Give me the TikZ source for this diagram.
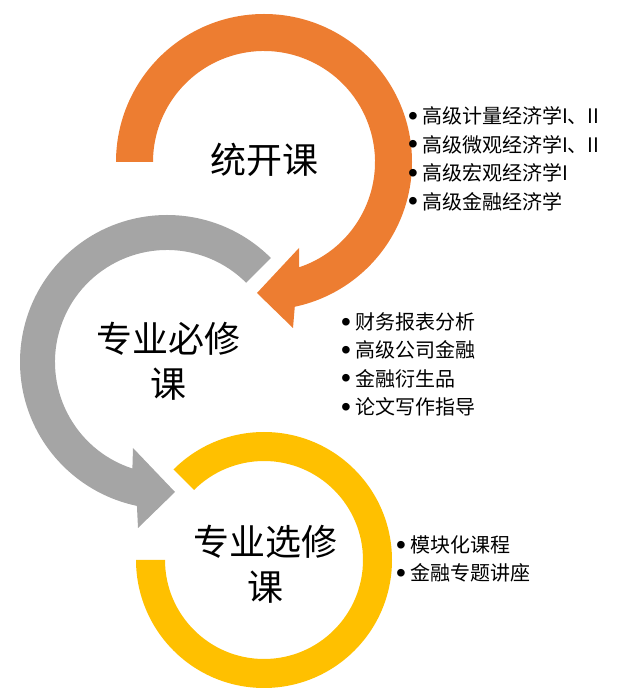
\documentclass[tikz,border=0pt]{standalone}
\usepackage{fontspec}
\newfontfamily\cjk{Noto Sans CJK SC}
\newfontfamily\lat{Liberation Sans}
\newcommand\crdot{{\lat\fontsize{28}{28}\selectfont\raisebox{-1.5pt}{•}}\hspace{4pt}}
\definecolor{rOrange}{HTML}{ED7D31}
\definecolor{rGray}{HTML}{A5A5A5}
\definecolor{rGold}{HTML}{FFC000}
\tikzset{CRbig/.style={font=\cjk\fontsize{36}{45}\selectfont,align=center,inner sep=0pt},
         CRitem/.style={font=\cjk\fontsize{20}{24}\selectfont,anchor=west,inner sep=0pt}}

\begin{document}
\begin{tikzpicture}[x=1pt,y=1pt]
    \useasboundingbox (0,0) rectangle (625,694);
    % circular arrows
    \fill[rOrange] ([shift={(264,532)}]180:148) arc[start angle=180,end angle=-78,radius=148] -- (293,366) -- (257,401) -- (299,446) -- ([shift={(264,532)}]-71.6:111) arc[start angle=-71.6,end angle=180,radius=111] -- cycle;
    \fill[rGray] ([shift={(167,332)}]45:147) arc[start angle=45,end angle=258.2,radius=147] -- (138,166) -- (175,202) -- (133,246) -- ([shift={(167,332)}]252:112) arc[start angle=252,end angle=45,radius=112] -- cycle;
    \fill[rGold] ([shift={(264,134)}]135:128) arc[start angle=135,end angle=-180,radius=128] -- ([shift={(264,134)}]180:99) arc[start angle=-180,end angle=135,radius=99] -- cycle;
    % titles
    \node[CRbig] (tk) at (264,534) {统开课};
    \node[CRbig] (bx) at (168,333) {专业必修\\课};
    \node[CRbig] (xx) at (265,130) {专业选修\\课};
    % course lists
    \foreach \t [count=\i] in {高级计量经济学I、II,高级微观经济学I、II,高级宏观经济学I,高级金融经济学} \node[CRitem] (tk\i) at (408,606.5-28.5*\i) {\crdot\t};
    \foreach \t [count=\i] in {财务报表分析,高级公司金融,金融衍生品,论文写作指导} \node[CRitem] (bx\i) at (341,400.3-28.3*\i) {\crdot\t};
    \foreach \t [count=\i] in {模块化课程,金融专题讲座} \node[CRitem] (xx\i) at (396,177-28*\i) {\crdot\t};
\end{tikzpicture}
\end{document}
